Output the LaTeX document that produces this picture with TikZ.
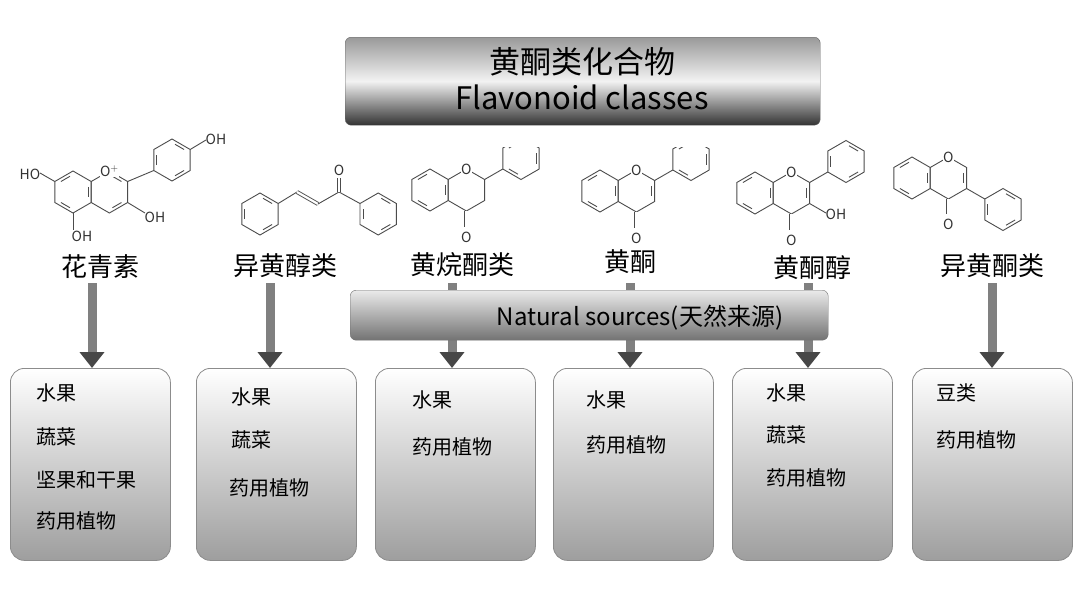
\documentclass[tikz,border=0pt]{standalone}
\usepackage{fontspec}
\setmainfont{Noto Sans CJK SC}
\usetikzlibrary{arrows.meta}
\tikzset{
  bond/.style={line width=0.9pt, draw=black!70},
  dbond/.style={bond, double, double distance=2.2pt},
  atom/.style={font=\fontsize{14}{14}\selectfont, text=black!80, inner sep=0.5pt},
  cls/.style={font=\fontsize{26}{26}\selectfont},
  srcbox/.style={draw=black!45, line width=0.8pt, rounded corners=14pt, top color=white, bottom color=black!38, minimum width=160pt, minimum height=192pt, anchor=north west},
  item/.style={font=\fontsize{20}{20}\selectfont, anchor=west},
  flow/.style={line width=9pt, draw=black!50, -{Triangle[width=24pt,length=16pt,fill=black!72,color=black!72]}}
}
\newcommand\ring[3]{%
  \draw[bond] (#1,#2) +(-90:21) -- +(-30:21) -- +(30:21) -- +(90:21) -- +(150:21) -- +(210:21) -- cycle;
  \foreach \k in {#3} {\draw[bond] (#1,#2) +({-90+60*\k+11}:16) -- +({-90+60*\k+49}:16);}}
\begin{document}
\begin{tikzpicture}[x=1pt,y=-1pt]
\useasboundingbox (0,0) rectangle (1080,606);
\fill[white] (0,0) rectangle (1080,606);
% title
\node[draw=black!60, rounded corners=6pt, top color=black!40, bottom color=black!80, middle color=black!5, minimum width=475pt, minimum height=88pt, anchor=north west] (title) at (345,37) {};
\node[font=\fontsize{31}{31}\selectfont] (t1) at (582,62) {黄酮类化合物};
\node[font=\fontsize{31}{31}\selectfont] (t2) at (582,97) {Flavonoid classes};
% molecule 1 anthocyanidin
\ring{73}{192}{1,3,5}
\ring{109.4}{192}{0,2}
\draw[bond] (127.6,181.5) -- (153.8,170.5);
\ring{172}{160}{0,2,4}
\draw[bond] (190.2,149.5) -- (206,140);
\draw[bond] (54.8,181.5) -- (40,173);
\draw[bond] (73,213) -- (73,230);
\draw[bond] (127.6,202.5) -- (145,213);
\node[atom, fill=white] (o1) at (109.4,171) {O$^{+}$};
\node[atom, anchor=west] (oh1) at (205,139) {OH};
\node[atom, anchor=east] (ho1) at (41,174) {HO};
\node[atom, anchor=north] (oh2) at (82,230) {OH};
\node[atom, anchor=west] (oh3) at (144,217) {OH};
% molecule 2 chalcone
\ring{260}{214}{0,2,4}
\draw[bond] (278.2,203.5) -- (297,192);
\draw[dbond] (297,192) -- (318,204);
\draw[bond] (318,204) -- (339,192) -- (360,203.5);
\draw[dbond] (339,192) -- (339,178);
\node[atom] (o2) at (339,170) {O};
\ring{378.2}{214}{0,2,4}
% molecule 3 flavanone
\ring{430}{190}{1,3,5}
\ring{466.4}{190}{}
\draw[dbond] (466.4,211) -- (466.4,227);
\node[atom] (o3b) at (466.4,237) {O};
\node[atom, fill=white] (o3) at (466.4,169) {O};
\draw[bond] (484.6,179.5) -- (502.8,169);
\begin{scope}
\clip (490,147) rectangle (560,200);
\ring{521}{158.5}{1,3,5}
\end{scope}
% molecule 4 flavone
\ring{600}{191}{1,3,5}
\ring{636.4}{191}{1}
\draw[dbond] (636.4,212) -- (636.4,228);
\node[atom] (o4b) at (636.4,238) {O};
\node[atom, fill=white] (o4) at (636.4,170) {O};
\draw[bond] (654.6,180.5) -- (672.8,170);
\begin{scope}
\clip (660,147) rectangle (730,200);
\ring{691}{159.5}{1,3,5}
\end{scope}
% molecule 5 flavonol
\ring{755}{193}{1,3,5}
\ring{791.4}{193}{1}
\draw[dbond] (791.4,214) -- (791.4,230);
\node[atom] (o5b) at (791.4,240) {O};
\node[atom, fill=white] (o5) at (791.4,172) {O};
\draw[bond] (809.6,182.5) -- (827.8,172);
\ring{846}{161.5}{0,2,4}
\draw[bond] (809.6,203.5) -- (826,213);
\node[atom, anchor=west] (oh5) at (825,214) {OH};
% molecule 6 isoflavone
\ring{912}{178}{1,3,5}
\ring{948.4}{178}{1}
\draw[dbond] (948.4,199) -- (948.4,214);
\node[atom] (o6b) at (948.4,224) {O};
\node[atom, fill=white] (o6) at (948.4,157) {O};
\draw[bond] (966.6,188.5) -- (984.8,199);
\ring{1003}{209.5}{0,2,4}
% class labels
\node[cls] (l1) at (100,267) {花青素};
\node[cls] (l2) at (285,266) {异黄醇类};
\node[cls] (l3) at (462,265) {黄烷酮类};
\node[cls] (l4) at (630,262) {黄酮};
\node[cls] (l5) at (812,268) {黄酮醇};
\node[cls] (l6) at (992,266) {异黄酮类};
% boxes
\node[srcbox] (b1) at (10,368) {};
\node[srcbox] (b2) at (196,368) {};
\node[srcbox] (b3) at (375,368) {};
\node[srcbox] (b4) at (553,368) {};
\node[srcbox] (b5) at (732,368) {};
\node[srcbox] (b6) at (912,368) {};
% arrows
\foreach \i/\x in {1/92,2/270,3/452,4/630,5/808,6/992} {
  \coordinate (s\i) at (\x,283);
  \coordinate (e\i) at (\x,368);
  \draw[flow] (s\i) -- (e\i);
}
% natural sources
\node[draw=black!55, rounded corners=6pt, top color=black!8, bottom color=black!55, minimum width=478pt, minimum height=50pt, anchor=north west] (ns) at (350,290) {};
\node[font=\fontsize{24}{24}\selectfont] (nst) at (640,318) {Natural sources(天然来源)};
% items
\node[item] at (33,393) {水果};
\node[item] at (33,437) {蔬菜};
\node[item] at (33,480) {坚果和干果};
\node[item] at (33,521) {药用植物};
\node[item] at (228,397) {水果};
\node[item] at (228,440) {蔬菜};
\node[item] at (226,488) {药用植物};
\node[item] at (409,400) {水果};
\node[item] at (409,447) {药用植物};
\node[item] at (583,400) {水果};
\node[item] at (583,445) {药用植物};
\node[item] at (763,393) {水果};
\node[item] at (763,435) {蔬菜};
\node[item] at (763,478) {药用植物};
\node[item] at (933,393) {豆类};
\node[item] at (933,440) {药用植物};
\end{tikzpicture}
\end{document}
